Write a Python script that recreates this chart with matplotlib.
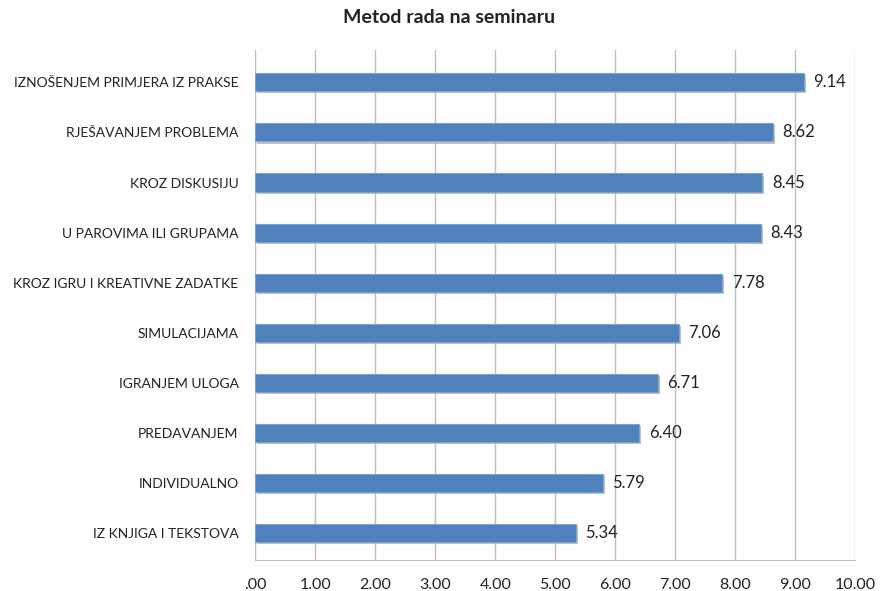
import matplotlib.pyplot as plt
import matplotlib.patheffects as pe

categories = ['IZ KNJIGA I TEKSTOVA', 'INDIVIDUALNO', 'PREDAVANJEM', 'IGRANJEM ULOGA',
              'SIMULACIJAMA', 'KROZ IGRU I KREATIVNE ZADATKE', 'U PAROVIMA ILI GRUPAMA',
              'KROZ DISKUSIJU', 'RJEŠAVANJEM PROBLEMA', 'IZNOŠENJEM PRIMJERA IZ PRAKSE']
values = [5.34, 5.79, 6.40, 6.71, 7.06, 7.78, 8.43, 8.45, 8.62, 9.14]
xticks = [0, 1, 2, 3, 4, 5, 6, 7, 8, 9, 10]
xtick_labels = ['.00', '1.00', '2.00', '3.00', '4.00', '5.00', '6.00', '7.00', '8.00', '9.00', '10.00']

plt.rcParams['font.family'] = ['Lato', 'DejaVu Sans']

fig = plt.figure(figsize=(8.8, 5.91), dpi=100)
ax = fig.add_axes([0.29, 0.052, 0.682, 0.863])

ypos = list(range(len(categories)))
bars = ax.barh(ypos, values, height=0.36, color='#4F81BD', edgecolor='#7FA3D0', linewidth=0.8, zorder=3)
for b in bars:
    b.set_path_effects([pe.SimplePatchShadow(offset=(1.5, -1.5), shadow_rgbFace='#9a9a9a', alpha=0.6), pe.Normal()])

for y, v in zip(ypos, values):
    ax.text(v + 0.16, y, f'{v:.2f}', va='center', ha='left', fontsize=12, color='#222222')

ax.set_xlim(0, 10)
ax.set_ylim(-0.54, 9.64)
ax.set_xticks(xticks)
ax.set_xticklabels(xtick_labels, fontsize=11.5, color='#222222')
ax.set_yticks(ypos)
ax.set_yticklabels(categories, fontsize=10, color='#222222')
ax.tick_params(axis='y', length=0, pad=12)
ax.tick_params(axis='x', length=0, pad=13)
ax.grid(axis='x', color='#BFBFBF', linewidth=1, zorder=0)
ax.set_axisbelow(True)
for s in ['top', 'right']:
    ax.spines[s].set_visible(False)
ax.spines['left'].set_color('#BFBFBF')
ax.spines['bottom'].set_color('#BFBFBF')

fig.suptitle('Metod rada na seminaru', x=0.51, y=0.985, fontsize=14, fontweight='bold', color='#222222')

fig.savefig('out.png', dpi=100)
